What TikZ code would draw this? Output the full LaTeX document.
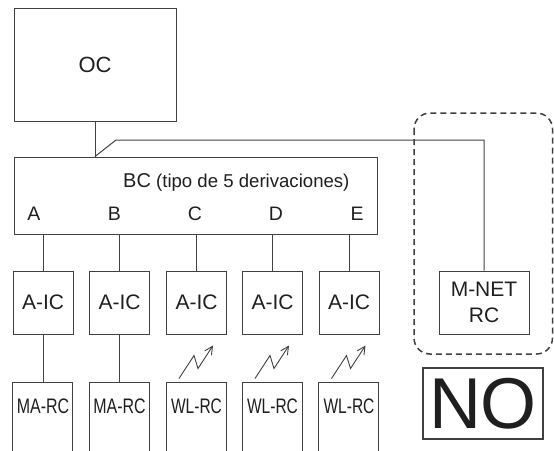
\documentclass[tikz,border=0pt]{standalone}
\usepackage{fontspec}
\setmainfont{Liberation Sans}
\usetikzlibrary{arrows.meta}
\definecolor{ln}{gray}{0.25}
\definecolor{tx}{gray}{0.12}
\tikzset{
  x=1pt, y=-1pt,
  every node/.style={text=tx},
  box/.style={draw=ln, line width=1pt, inner sep=0pt, align=center,
    font=\fontsize{21}{25.7}\selectfont},
  icbox/.style={box, minimum width=60pt, minimum height=63pt},
  rcbox/.style={inner sep=0pt, minimum width=60pt, minimum height=34pt,
    font=\fontsize{21}{25.7}\selectfont},
  wire/.style={draw=ln, line width=1pt},
  lbl/.style={inner sep=0pt, anchor=base, font=\fontsize{19.5}{22}\selectfont},
  pics/bolt/.style={code={
    \draw[ln, line width=0.9pt, -{Straight Barb[length=8pt,width=8pt]}]
      (-17.5,16) -- (-2.5,-7) -- (1.5,6) -- (16.5,-17);
  }}
}
\begin{document}
\begin{tikzpicture}
\useasboundingbox (0,0) rectangle (554,450);
\clip (0,0) rectangle (554,450);

% OC and BC
\node[box, minimum width=162pt, minimum height=113pt, font=\fontsize{22}{26}\selectfont] (OC) at (95,64.5) {OC};
\node[box, minimum width=363pt, minimum height=77pt] (BC) at (195.5,195.5) {};
\node[inner sep=0pt, anchor=base west] (BCt) at (123,187)
  {\fontsize{20}{24}\selectfont BC\fontsize{18.6}{22}\selectfont\ (tipo de 5 derivaciones)};
\node[lbl] (lA) at (34,220.5) {A};
\node[lbl] (lB) at (114.5,220.5) {B};
\node[lbl] (lC) at (195,220.5) {C};
\node[lbl] (lD) at (276,220.5) {D};
\node[lbl] (lE) at (357,220.5) {E};

% interface boxes
\node[icbox] (ic1) at (43,302.5) {A-IC};
\node[icbox] (ic2) at (119.5,302.5) {A-IC};
\node[icbox] (ic3) at (196.5,302.5) {A-IC};
\node[icbox] (ic4) at (272.5,302.5) {A-IC};
\node[icbox] (ic5) at (349,302.5) {A-IC};

% remote controllers (boxes run past the lower edge)
\node[rcbox] (rc1) at (43,406) {\scalebox{0.76}[1]{MA-RC}};
\node[rcbox] (rc2) at (119.5,406) {\scalebox{0.76}[1]{MA-RC}};
\node[rcbox] (rc3) at (196.5,406) {\scalebox{0.74}[1]{WL-RC}};
\node[rcbox] (rc4) at (272.5,406) {\scalebox{0.74}[1]{WL-RC}};
\node[rcbox] (rc5) at (349,406) {\scalebox{0.74}[1]{WL-RC}};
\foreach \i in {1,...,5}{
  \draw[wire] (rc\i.north west) ++(0,-6) rectangle ++(60,80);
}

% M-NET RC and NO
\node[box, minimum width=90pt, minimum height=63pt] (mnet) at (484,302.5) {M-NET\\RC};
\draw[ln, line width=1.5pt, dash pattern=on 6pt off 4pt, rounded corners=16pt]
  (414,113) rectangle (552.5,354);
\node[box, line width=1.2pt, minimum width=120pt, minimum height=71pt,
  font=\fontsize{72}{72}\selectfont] (NO) at (483,403.5) {NO};

% connectors
\coordinate (j) at (OC.south |- BC.north);
\coordinate (k) at (116,140);
\draw[wire] (OC.south) -- (j);
\draw[wire] (j) -- (k) -| (mnet.north);
\foreach \i in {1,...,5}{
  \draw[wire] (BC.south -| ic\i.north) -- (ic\i.north);
}
\draw[wire] (ic1.south) -- ([yshift=6pt]rc1.north);
\draw[wire] (ic2.south) -- ([yshift=6pt]rc2.north);
\foreach \i in {3,4,5}{
  \pic at ([yshift=-28pt]ic\i.south) {bolt};
}
\end{tikzpicture}
\end{document}
